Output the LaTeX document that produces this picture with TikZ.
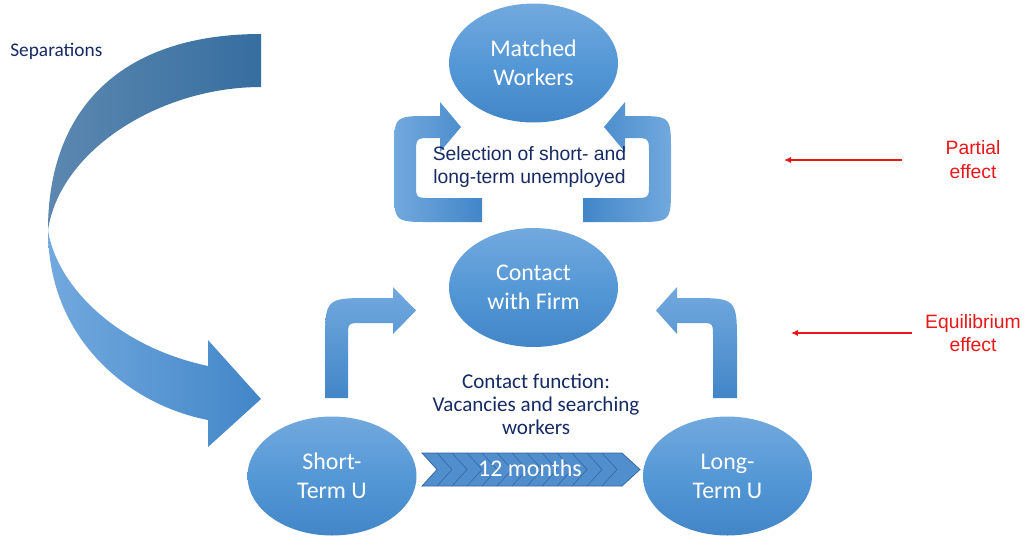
\documentclass[tikz,border=0pt]{standalone}
\usepackage{fontspec}
\setmainfont{Carlito}
\newfontfamily\arialfont{Liberation Sans}
\usetikzlibrary{shapes.geometric,arrows.meta}
\definecolor{bluetop}{RGB}{114,169,222}
\definecolor{bluemid}{RGB}{85,152,214}
\definecolor{bluebot}{RGB}{66,134,200}
\definecolor{slatelight}{RGB}{92,136,176}
\definecolor{slatedark}{RGB}{54,110,160}
\definecolor{navy}{RGB}{22,42,100}
\definecolor{effectred}{RGB}{232,24,24}
\definecolor{chevronfill}{RGB}{80,142,206}
\definecolor{chevronline}{RGB}{52,100,155}
\begin{document}
\begin{tikzpicture}[
		x=0.02cm, y=-0.02cm,
		pool/.style={ellipse, minimum width=3.38cm, minimum height=2.38cm, inner sep=0pt,
				top color=bluetop, bottom color=bluebot, middle color=bluemid,
				text=white, align=center, font=\fontsize{13.6}{16.5}\selectfont},
		navytext/.style={text=navy, align=center, inner sep=0pt},
		redtext/.style={text=effectred, align=center, inner sep=0pt,
				font=\arialfont\fontsize{11}{13.2}\selectfont},
		effectarrow/.style={draw=effectred, line width=0.7pt, -{Latex[length=4pt,width=3.6pt]}}
	]
	\fill[white] (0,0) rectangle (1026,539);
	\useasboundingbox (0,0) rectangle (1026,539);

	\path[left color=slatelight, right color=slatedark]
	(261,34) .. controls (120,34) and (48,110) .. (48,230)
	.. controls (60,150) and (160,87) .. (261,87) -- cycle;
	\path[left color=bluetop, right color=bluebot]
	(48,230) .. controls (48,340) and (130,405) .. (208,420)
	-- (208,447) -- (261,399) -- (208,340) -- (208,366)
	.. controls (110,345) and (55,280) .. (48,230) -- cycle;

	\path[left color=bluetop, right color=bluebot]
	(482,222) -- (430,222) .. controls (394,222) .. (394,186) -- (394,152)
	.. controls (394,116) .. (430,116) -- (440,116) -- (440,102) -- (461,127)
	-- (440,152) -- (440,138) -- (432,138) .. controls (416,138) .. (416,154)
	-- (416,184) .. controls (416,198) .. (432,198) -- (482,198) -- cycle;
	\path[left color=bluebot, right color=bluetop]
	(583,222) -- (635,222) .. controls (671,222) .. (671,186) -- (671,152)
	.. controls (671,116) .. (635,116) -- (625,116) -- (625,102) -- (604,127)
	-- (625,152) -- (625,138) -- (633,138) .. controls (649,138) .. (649,154)
	-- (649,184) .. controls (649,198) .. (633,198) -- (583,198) -- cycle;

	\path[top color=bluetop, bottom color=bluebot]
	(325,398) -- (325,345) .. controls (325,298) .. (372,298) -- (393,298)
	-- (393,287) -- (416,310.5) -- (393,334) -- (393,323) -- (362,323)
	.. controls (348,323) .. (348,337) -- (348,398) -- cycle;
	\path[top color=bluetop, bottom color=bluebot]
	(737,398) -- (737,345) .. controls (737,298) .. (690,298) -- (677,298)
	-- (677,287) -- (656,310.5) -- (677,334) -- (677,323) -- (700,323)
	.. controls (713,323) .. (713,337) -- (713,398) -- cycle;

	\path[fill=chevronfill, draw=chevronline, line width=0.4pt]
	(422,453) -- (622,453) -- (640,469.5) -- (622,486) -- (422,486) -- (437,469.5) -- cycle;
	\foreach \k in {1,...,12}
	\draw[chevronline, line width=0.3pt] (422+15*\k,453) -- (437+15*\k,469.5) -- (422+15*\k,486);
	\node[text=white, font=\fontsize{13.6}{16.5}\selectfont] (months) at (530,468) {12 months};

	\node[pool] (matched) at (533.5,63) {Matched\\Workers};
	\node[pool] (contact) at (533.5,287.5) {Contact\\with Firm};
	\node[pool] (short) at (332,476) {Short-\\Term U};
	\node[pool] (long) at (727.5,476) {Long-\\Term U};

	\node[navytext, anchor=base west, font=\fontsize{11}{13}\selectfont] (separations) at (10,56) {Separations};
	\node[navytext, font=\arialfont\fontsize{11}{13.3}\selectfont] (selection) at (529.5,167)
	{Selection of short- and\\long-term unemployed};
	\node[navytext, font=\fontsize{12}{13}\selectfont] (function) at (536,404)
	{Contact function:\\Vacancies and searching\\workers};

	\node[redtext] (partial) at (973,159.5) {Partial\\effect};
	\node[redtext] (equilibrium) at (973,333) {Equilibrium\\effect};
	\coordinate (ptail) at (902,160);
	\coordinate (ptip) at (784,160);
	\coordinate (etail) at (912,333);
	\coordinate (etip) at (791,333);
	\draw[effectarrow] (ptail) -- (ptip);
	\draw[effectarrow] (etail) -- (etip);
\end{tikzpicture}
\end{document}
